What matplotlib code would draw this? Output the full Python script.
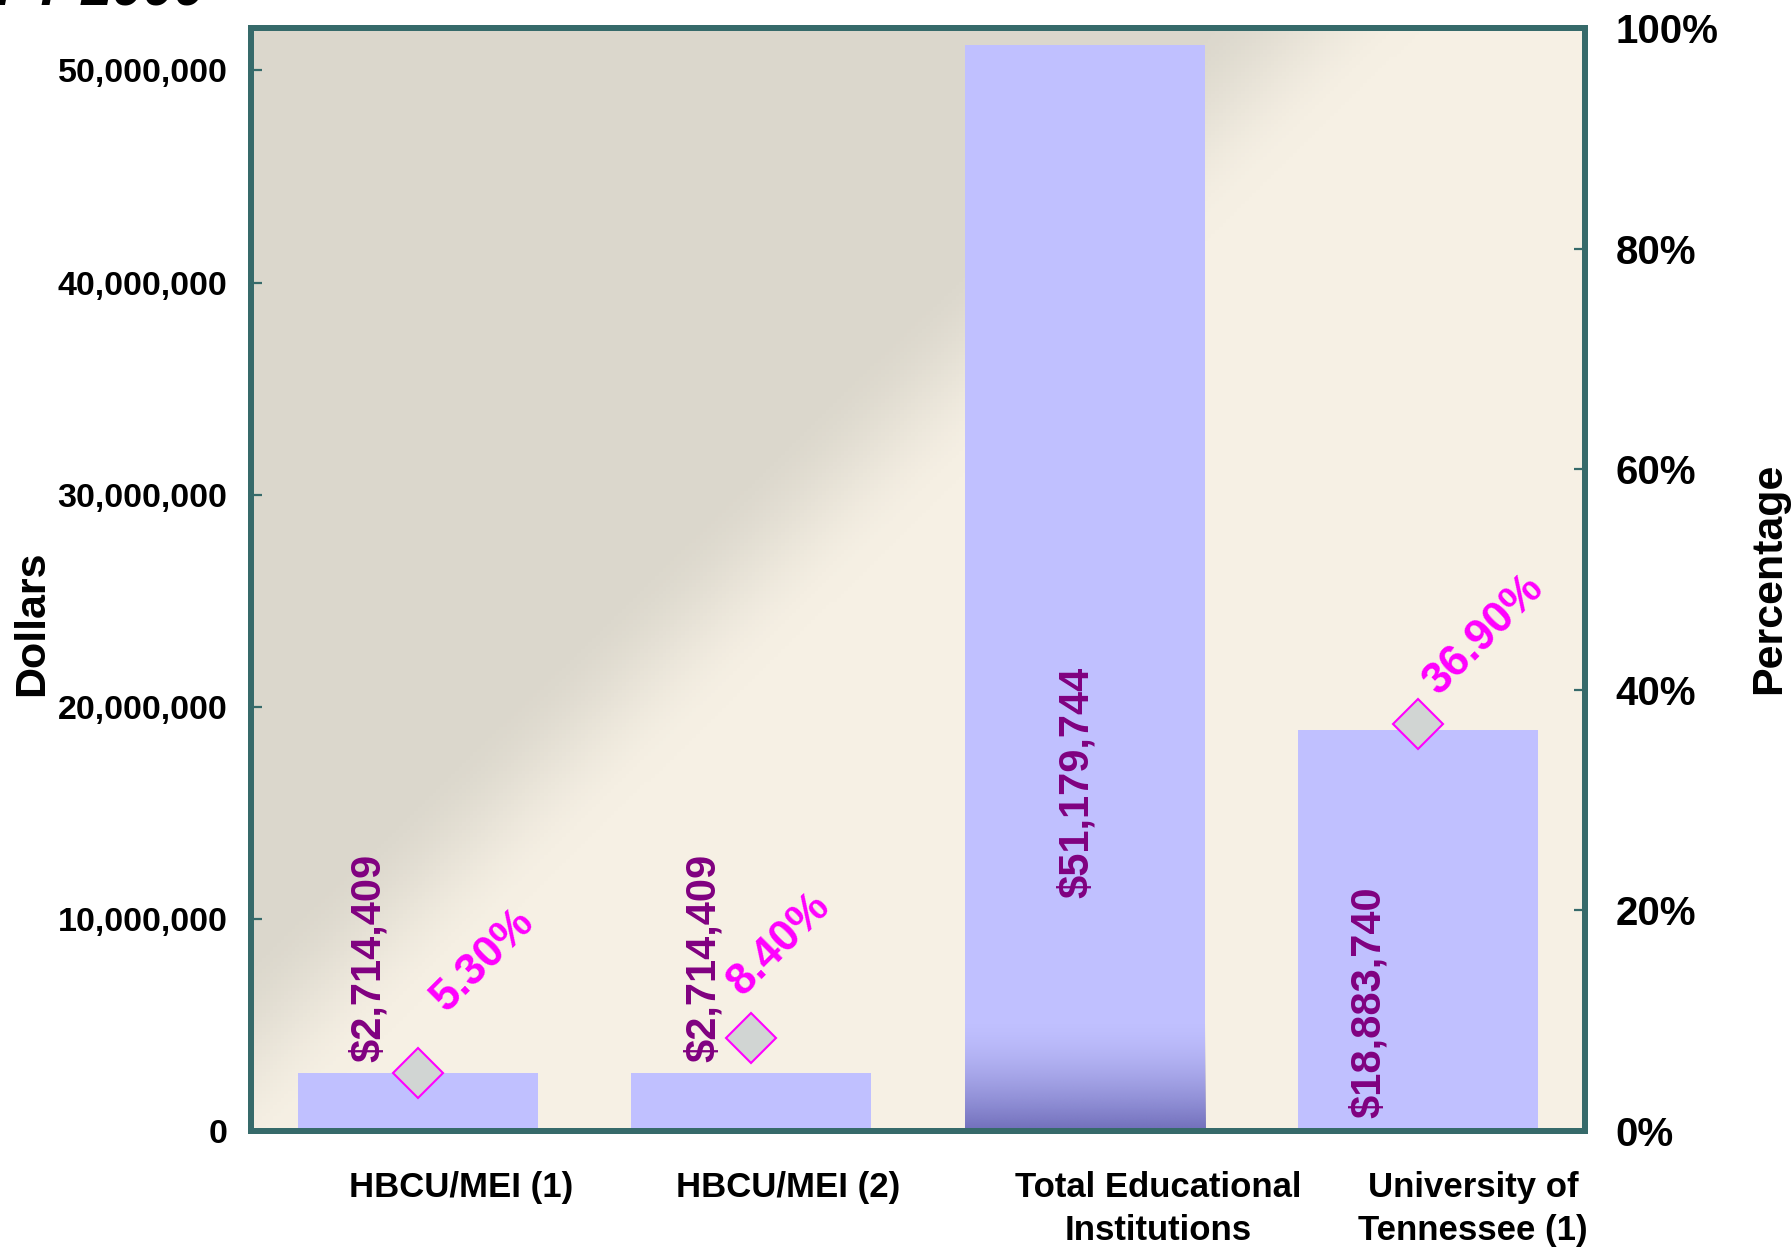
import matplotlib
matplotlib.use("Agg")
import matplotlib.pyplot as plt
import numpy as np
from matplotlib.ticker import FuncFormatter, PercentFormatter

plt.rcParams['font.family'] = ['Liberation Sans', 'DejaVu Sans']
plt.rcParams['font.weight'] = 'bold'

# data
categories = ['HBCU/MEI (1)', 'HBCU/MEI (2)', 'Total Educational\nInstitutions',
              'University of\nTennessee (1)']
dollars = [2714409, 2714409, 51179744, 18883740]
dollar_labels = ['$2,714,409', '$2,714,409', '$51,179,744', '$18,883,740']
percent = [0.053, 0.084, None, 0.369]
percent_labels = ['5.30%', '8.40%', None, '36.90%']
title = 'FY 2000'

# layout tweaks (where the labels sit, as in the original slide)
label_shift = [0.13, 0.11, 0.22, 0.165]            # x tick label shift
dlabel_dx = [-0.147, -0.142, -0.024, -0.148]        # dollar label x shift
dlabel_y = [3.25e6, 3.25e6, 11.0e6, 0.6e6]          # dollar label bottom
plabel_off = [(21, 43), (-6, 30), None, (15, 20)]   # percent label offsets (pt)

teal = '#366a6a'
bar_col = '#c0c0ff'
purple = '#800080'
magenta = '#ff00ff'

fig = plt.figure(figsize=(17.92, 12.49), dpi=100)
ax = fig.add_axes([251 / 1792, 1 - 1131 / 1249, 1334 / 1792, 1103 / 1249])
x = np.arange(len(categories)) + 0.5

# background: diagonal grey -> cream
ny, nx = 300, 360
U, V = np.meshgrid(np.linspace(0, 1, nx), np.linspace(0, 1, ny))
d = (U * 1334 * 972 - (V * 1103 - 131) * 999) / 1394
t = np.clip((d + 40) / 160, 0, 1)
t = t * t * (3 - 2 * t)
grey = np.array([219, 215, 204]) / 255
cream = np.array([246, 240, 228]) / 255
bg = grey[None, None, :] * (1 - t[..., None]) + cream[None, None, :] * t[..., None]
ax.imshow(bg, extent=[0, 1, 0, 1], transform=ax.transAxes, origin='lower',
          aspect='auto', zorder=0)

bars = ax.bar(x, dollars, width=0.72, color=bar_col, zorder=2)

# darker shading at the foot of the total bar (fades out upward)
p = bars[2]
gy = np.linspace(0, 1, 200)[:, None]
dark = np.array([112, 110, 186]) / 255
w = (1 - gy) ** 1.6
grad = np.zeros((200, 2, 4))
grad[..., :3] = dark
grad[..., 3] = np.repeat(w, 2, axis=1)
im = ax.imshow(grad, extent=[p.get_x(), p.get_x() + p.get_width(), 0, 5.2e6],
               origin='lower', aspect='auto', zorder=2.5)
im.set_clip_path(p)

for i, lab in enumerate(dollar_labels):
    ax.text(x[i] + dlabel_dx[i], dlabel_y[i], lab, rotation=90, ha='center',
            va='bottom', color=purple, fontsize=30, fontweight='bold', zorder=4)

ax.set_xlim(0, 4)
ax.set_ylim(0, 52e6)
ax.set_yticks(np.arange(0, 50e6 + 1, 10e6))
ax.yaxis.set_major_formatter(FuncFormatter(lambda v, pos: f'{v:,.0f}'))
ax.set_xticks([])
ax.tick_params(axis='y', direction='in', length=8, width=1.6, color=teal,
               labelsize=24.5, pad=17)

for i, lab in enumerate(categories):
    ax.text(x[i] + label_shift[i], -0.036, lab, transform=ax.get_xaxis_transform(),
            ha='center', va='top', fontsize=25, fontweight='bold',
            linespacing=1.4)

ax2 = ax.twinx()
ax2.patch.set_visible(False)
for i, pc in enumerate(percent):
    if pc is None:
        continue
    ax2.plot(x[i], pc, marker='D', markersize=25, markerfacecolor='#d1d5d3',
             markeredgecolor=magenta, markeredgewidth=1.5, linestyle='none',
             zorder=5)
    ax2.annotate(percent_labels[i], xy=(x[i], pc), xytext=plabel_off[i],
                 textcoords='offset points', rotation=45, rotation_mode='anchor',
                 ha='left', va='baseline', color=magenta, fontsize=32,
                 fontweight='bold', zorder=6)
ax2.set_ylim(0, 1)
ax2.set_yticks(np.arange(0, 1.01, 0.2))
ax2.yaxis.set_major_formatter(PercentFormatter(1.0, decimals=0))
ax2.tick_params(axis='y', direction='in', length=8, width=1.6, color=teal,
                labelsize=29, pad=22)

for a in (ax, ax2):
    for s in a.spines.values():
        s.set_color(teal)
        s.set_linewidth(4.3)

fig.text(32 / 1792, 1 - 623 / 1249, 'Dollars', rotation=90, ha='center',
         va='center', fontsize=31, fontweight='bold')
fig.text(1769 / 1792, 1 - 578 / 1249, 'Percentage', rotation=90, ha='center',
         va='center', fontsize=31, fontweight='bold')
fig.text(-0.002, 1 - 6 / 1249, title, ha='left', va='baseline', fontsize=40,
         fontweight='bold', fontstyle='italic')

fig.savefig('out.png', dpi=100)
